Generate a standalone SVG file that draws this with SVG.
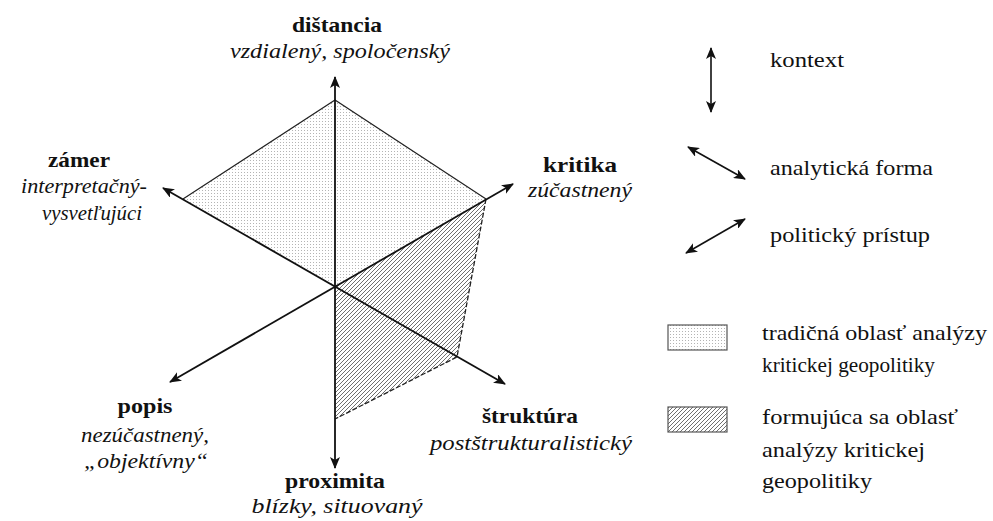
<svg xmlns="http://www.w3.org/2000/svg" width="993" height="521" viewBox="0 0 993 521">
<style>
text{font-family:'Liberation Serif','Times New Roman',serif;font-size:21px;fill:#111}
.b{font-weight:bold}
.i{font-style:italic}
.m{text-anchor:middle}
.ax{stroke:#111;stroke-width:1.8;fill:none;marker-start:url(#ah);marker-end:url(#ah)}
.lg{stroke:#111;stroke-width:1.6;fill:none;marker-start:url(#ah);marker-end:url(#ah)}
.edge{stroke:#222;stroke-width:1.2;fill:none}
.dash{stroke:#222;stroke-width:1.3;fill:none;stroke-dasharray:5 2}
</style>
<defs>
<marker id="ah" viewBox="0 0 12 10" refX="11" refY="5" markerWidth="12" markerHeight="10" markerUnits="userSpaceOnUse" orient="auto-start-reverse">
<path d="M0,0 L12,5 L0,10 L3,5 z" fill="#111"/>
</marker>
<pattern id="dots" width="3" height="3" patternUnits="userSpaceOnUse">
<rect width="3" height="3" fill="#fff"/>
<rect x="1" y="1" width="1" height="1" fill="#b4b4b4"/>
</pattern>
<pattern id="hatch" width="4" height="4" patternUnits="userSpaceOnUse">
<rect width="4" height="4" fill="#fff"/>
<path d="M-1,1 L1,-1 M0,4 L4,0 M3,5 L5,3" stroke="#4a4a4a" stroke-width="0.8"/>
</pattern>
</defs>

<g id="regions">
<polygon points="335,287 183,199 335,100 486,199" fill="url(#dots)"/>
<polygon points="335,287 486,199 457,357 335,419" fill="url(#hatch)"/>
<polyline class="edge" points="183,199 335,100 486,199"/>
<polyline class="dash" points="486,199 457,357 335,419"/>
</g>

<g id="connectors">
<line class="ax" x1="335" y1="468" x2="335" y2="77"/>
<line class="ax" x1="163" y1="188" x2="505" y2="384"/>
<line class="ax" x1="170" y1="382" x2="513" y2="184"/>
</g>

<g id="distancia">
<text class="b m" x="337" y="32" textLength="90" lengthAdjust="spacingAndGlyphs">dištancia</text>
<text class="i m" x="340" y="58" textLength="220" lengthAdjust="spacingAndGlyphs">vzdialený, spoločenský</text>
</g>
<g id="zamer">
<text class="b m" x="79" y="167" textLength="62" lengthAdjust="spacingAndGlyphs">zámer</text>
<text class="i m" x="84" y="193" textLength="126" lengthAdjust="spacingAndGlyphs">interpretačný-</text>
<text class="i m" x="92" y="220" textLength="100" lengthAdjust="spacingAndGlyphs">vysvetľujúci</text>
</g>
<g id="kritika">
<text class="b m" x="580" y="172" textLength="74" lengthAdjust="spacingAndGlyphs">kritika</text>
<text class="i m" x="580" y="197" textLength="104" lengthAdjust="spacingAndGlyphs">zúčastnený</text>
</g>
<g id="popis">
<text class="b m" x="145" y="413" textLength="55" lengthAdjust="spacingAndGlyphs">popis</text>
<text class="i m" x="145" y="442" textLength="128" lengthAdjust="spacingAndGlyphs">nezúčastnený,</text>
<text class="i m" x="146" y="468" textLength="124" lengthAdjust="spacingAndGlyphs">„objektívny“</text>
</g>
<g id="struktura">
<text class="b m" x="530" y="423" textLength="96" lengthAdjust="spacingAndGlyphs">štruktúra</text>
<text class="i m" x="531" y="450" textLength="202" lengthAdjust="spacingAndGlyphs">postštrukturalistický</text>
</g>
<g id="proximita">
<text class="b m" x="335" y="488" textLength="100" lengthAdjust="spacingAndGlyphs">proximita</text>
<text class="i m" x="337" y="513" textLength="171" lengthAdjust="spacingAndGlyphs">blízky, situovaný</text>
</g>

<g id="legend-kontext">
<line class="lg" x1="711" y1="48" x2="711" y2="112"/>
<text x="770" y="67" textLength="74" lengthAdjust="spacingAndGlyphs">kontext</text>
</g>
<g id="legend-analyticka">
<line class="lg" x1="688" y1="147" x2="745" y2="179"/>
<text x="770" y="175" textLength="163" lengthAdjust="spacingAndGlyphs">analytická forma</text>
</g>
<g id="legend-politicky">
<line class="lg" x1="686" y1="253" x2="745" y2="219"/>
<text x="770" y="242" textLength="160" lengthAdjust="spacingAndGlyphs">politický prístup</text>
</g>
<g id="legend-tradicna">
<rect x="668" y="325" width="59" height="25" fill="url(#dots)" stroke="#555" stroke-width="1.2"/>
<text x="762" y="340" textLength="225" lengthAdjust="spacingAndGlyphs">tradičná oblasť analýzy</text>
<text x="762" y="372" textLength="173" lengthAdjust="spacingAndGlyphs">kritickej geopolitiky</text>
</g>
<g id="legend-formujuca">
<rect x="668" y="407" width="59" height="25" fill="url(#hatch)" stroke="#555" stroke-width="1.2"/>
<text x="762" y="424" textLength="196" lengthAdjust="spacingAndGlyphs">formujúca sa oblasť</text>
<text x="762" y="457" textLength="163" lengthAdjust="spacingAndGlyphs">analýzy kritickej</text>
<text x="762" y="488" textLength="110" lengthAdjust="spacingAndGlyphs">geopolitiky</text>
</g>
</svg>
